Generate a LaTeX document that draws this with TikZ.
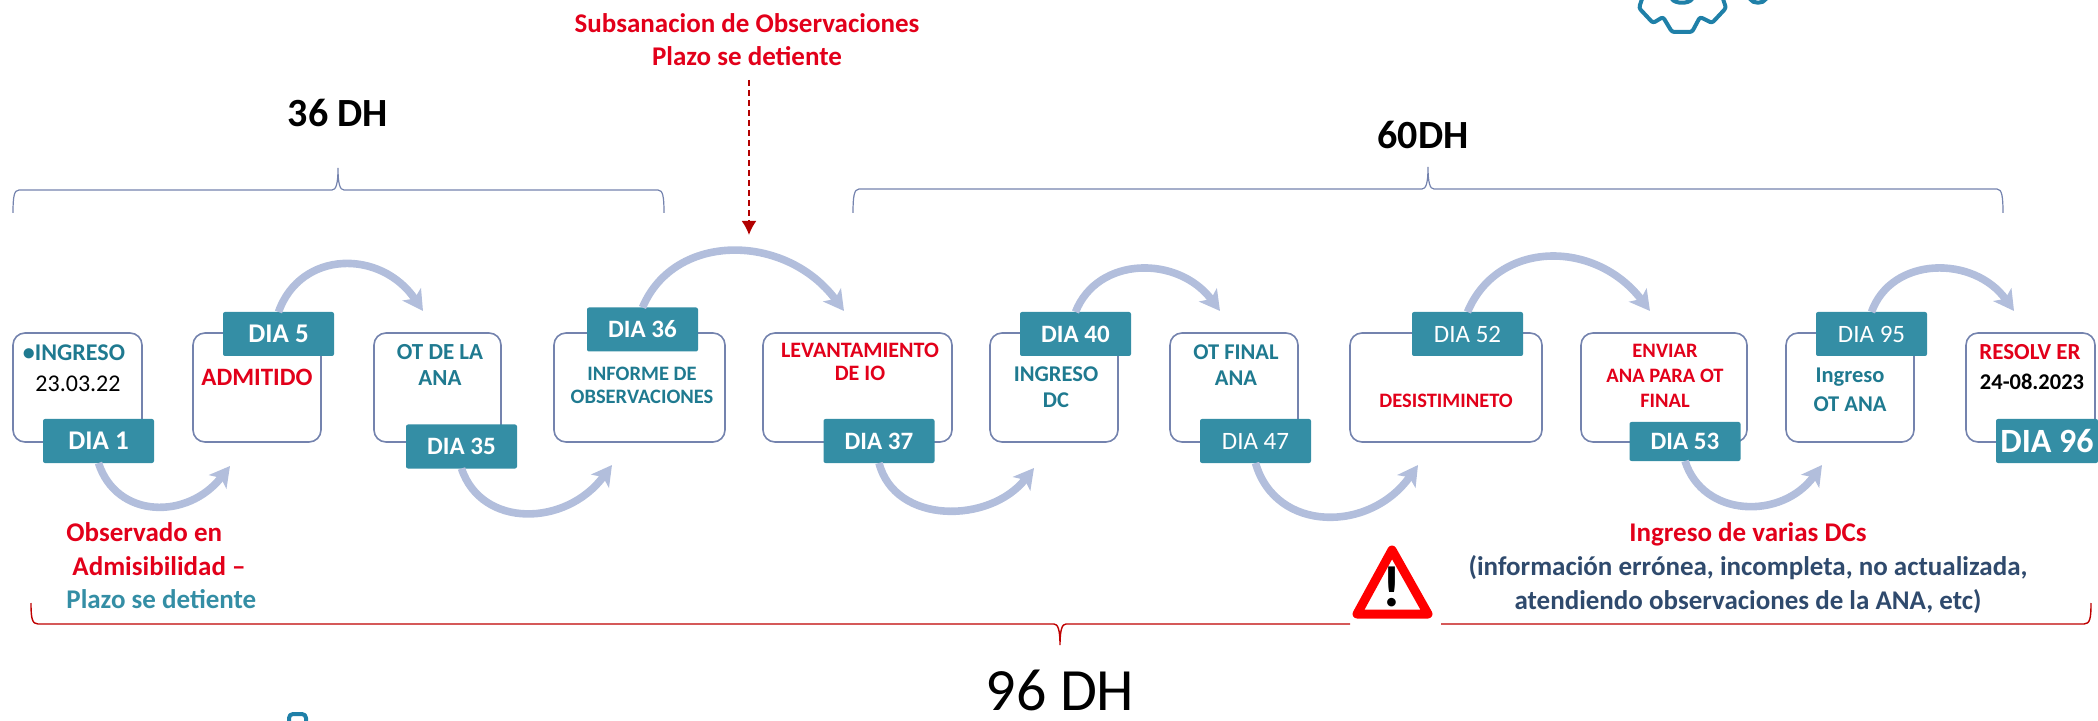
\documentclass[tikz,border=0pt]{standalone}
\usepackage{fontspec}
\setmainfont{Carlito}
\usetikzlibrary{arrows.meta}
\definecolor{tagteal}{HTML}{348EA5}
\definecolor{txtteal}{HTML}{1F7A90}
\definecolor{flowblue}{HTML}{B2BEDC}
\definecolor{boxblue}{HTML}{7483AE}
\definecolor{redtxt}{HTML}{E2001A}
\definecolor{navytxt}{HTML}{2F4A6D}
\definecolor{iconblue}{HTML}{1F80A8}
\begin{document}
\begin{tikzpicture}[x=0.5pt, y=-0.5pt,
	dbox/.style={draw=boxblue, line width=0.8pt, fill=white, rounded corners=6pt, minimum height=54.5pt, inner sep=0, outer sep=0},
	tag/.style={fill=tagteal, text=white, rounded corners=1pt, minimum width=55.5pt, minimum height=22pt, inner sep=0, outer sep=0, font=\fontsize{12.5}{15}\selectfont\bfseries},
	tagl/.style={tag, font=\fontsize{12.5}{15}\selectfont},
	l/.style={align=center, inner sep=0, font=\fontsize{#1}{#1}\selectfont\bfseries},
	flow/.style={flowblue, line width=3.8pt, -{Stealth[length=10pt, width=11pt, inset=2.5pt]}},
	bluebrace/.style={boxblue, line width=0.6pt},
	redbrace/.style={red!75!black, line width=0.7pt},
	icon/.style={iconblue, line width=2pt, line join=round, line cap=round}]
	\clip (0,0) rectangle (2098,721);

	\node[dbox, minimum width=64.5pt] (b1) at (77.5,387.5) {};
	\node[dbox, minimum width=64pt] (b2) at (257,387.5) {};
	\node[dbox, minimum width=63.5pt] (b3) at (437.5,387.5) {};
	\node[dbox, minimum width=85.5pt] (b4) at (639.5,387.5) {};
	\node[dbox, minimum width=94.5pt] (b5) at (857.5,387.5) {};
	\node[dbox, minimum width=64pt] (b6) at (1054,387.5) {};
	\node[dbox, minimum width=64pt] (b7) at (1234,387.5) {};
	\node[dbox, minimum width=96pt] (b8) at (1446,387.5) {};
	\node[dbox, minimum width=83pt] (b9) at (1664,387.5) {};
	\node[dbox, minimum width=64pt] (b10) at (1850,387.5) {};
	\node[dbox, minimum width=64.5pt] (b11) at (2030.5,387.5) {};

	\node[tag, font=\fontsize{13.5}{15}\selectfont\bfseries] (d1) at (98.5,441) {DIA 1};
	\node[tag, font=\fontsize{13.5}{15}\selectfont\bfseries] (d5) at (278.5,334) {DIA 5};
	\node[tag] (d35) at (461.5,446.5) {DIA 35};
	\node[tag] (d36) at (642.5,329.5) {DIA 36};
	\node[tag] (d37) at (879,441) {DIA 37};
	\node[tag] (d40) at (1075.5,334) {DIA 40};
	\node[tagl] (d47) at (1255.5,441) {DIA 47};
	\node[tagl] (d52) at (1467.5,334) {DIA 52};
	\node[tag, minimum height=19.5pt] (d53) at (1685,441.5) {DIA 53};
	\node[tagl] (d95) at (1871.5,334) {DIA 95};
	\node[tag, minimum width=51pt, anchor=west, font=\fontsize{17}{20}\selectfont\bfseries] (d96) at (1996,441) {DIA 96};

	\coordinate (t2) at (230,466);
	\coordinate (t3) at (423,311);
	\coordinate (t4) at (612,465);
	\coordinate (t5) at (844,311);
	\coordinate (t6) at (1034,468);
	\coordinate (t7) at (1220,311);
	\coordinate (t8) at (1418,465);
	\coordinate (t9) at (1650,311);
	\coordinate (t10) at (1822,465);
	\coordinate (t11) at (2014,311);

	\draw[flow] (d1.south) .. controls +(18,56) and +(-42,54) .. (t2);
	\draw[flow] (d5.north) .. controls +(22,-62) and +(-42,-62) .. (t3);
	\draw[flow] (d35.south) .. controls +(20,60) and +(-46,62) .. (t4);
	\draw[flow] (d36.north) .. controls +(32,-76) and +(-58,-78) .. (t5);
	\draw[flow] (d37.south) .. controls +(16,62) and +(-44,56) .. (t6);
	\draw[flow] (d40.north) .. controls +(22,-56) and +(-42,-56) .. (t7);
	\draw[flow] (d47.south) .. controls +(20,70) and +(-48,68) .. (t8);
	\draw[flow] (d52.north) .. controls +(30,-72) and +(-55,-72) .. (t9);
	\draw[flow] (d53.south) .. controls +(18,57) and +(-40,55) .. (t10);
	\draw[flow] (d95.north) .. controls +(20,-56) and +(-40,-56) .. (t11);

	% day labels inside the boxes
	\node[l=12, text=txtteal] (n1) at (74,353) {•INGRESO};
	\node[l=12, font=\fontsize{12}{12}\selectfont, text=black] (n2) at (78,384) {23.03.22};
	\node[l=12.5, text=redtxt] (n3) at (257,377) {ADMITIDO};
	\node[l=11.5, text=txtteal, font=\fontsize{11.5}{13}\selectfont\bfseries] (n4) at (440,365) {OT DE LA\\ANA};
	\node[l=10.25, text=txtteal, font=\fontsize{10.25}{11.5}\selectfont\bfseries] (n5) at (642,385) {INFORME DE\\OBSERVACIONES};
	\node[l=11, text=redtxt, font=\fontsize{11}{11.5}\selectfont\bfseries] (n6) at (860,362) {LEVANTAMIENTO\\DE IO};
	\node[l=11.25, text=txtteal, font=\fontsize{11.25}{13}\selectfont\bfseries] (n7) at (1056,387) {INGRESO\\DC};
	\node[l=11.25, text=txtteal, font=\fontsize{11.25}{13}\selectfont\bfseries] (n8) at (1236,365) {OT FINAL\\ANA};
	\node[l=10.25, text=redtxt] (n9) at (1446,401) {DESISTIMINETO};
	\node[l=10.25, text=redtxt, font=\fontsize{10.25}{12.5}\selectfont\bfseries] (n10) at (1665,376) {ENVIAR\\ANA PARA OT\\FINAL};
	\node[l=11.25, text=txtteal, font=\fontsize{11.25}{14.5}\selectfont\bfseries] (n11) at (1850,390) {Ingreso\\OT ANA};
	\node[l=11.5, text=redtxt] (n12) at (2030,352) {RESOLV ER};
	\node[l=11.25, text=black] (n13) at (2032,382) {24-08.2023};

	% notes
	\node[l=13.5, align=left, font=\fontsize{13.5}{16.9}\selectfont\bfseries, anchor=north west] (obs) at (66,522) {\textcolor{redtxt}{Observado en}\\\hspace*{3pt}\textcolor{redtxt}{Admisibilidad –}\\\textcolor{tagteal}{Plazo se detiente}};
	\node[l=13.5, font=\fontsize{13.5}{16.5}\selectfont\bfseries, text=redtxt] (sub) at (747,40) {Subsanacion de Observaciones\\Plazo se detiente};
	\node[l=13.5, font=\fontsize{13.5}{17}\selectfont\bfseries, text=navytxt] (var) at (1748,568) {\textcolor{redtxt}{Ingreso de varias DCs}\\(información errónea, incompleta, no actualizada,\\atendiendo observaciones de la ANA, etc)};

	\node[l=20, text=black] (h36) at (338,113) {36 DH};
	\node[l=20, text=black] (h60) at (1423,135) {60DH};
	\node[l=30, font=\fontsize{30}{30}\selectfont, text=black] (h96) at (1060,690) {96 DH};

	\coordinate (s0) at (749,80);
	\coordinate (s1) at (749,235);
	\draw[red!70!black, line width=1pt, densely dashed, -{Latex[length=7pt, width=7.5pt]}] (s0) -- (s1);

	\draw[bluebrace] (13,213) .. controls (13,197) and (14,190) .. (19,190) -- (332,190) .. controls (336,190) and (338,184) .. (338,168) .. controls (338,184) and (340,190) .. (344,190) -- (658,190) .. controls (663,190) and (664,197) .. (664,213);
	\draw[bluebrace] (853,213) .. controls (853,197) and (854,189) .. (859,189) -- (1422,189) .. controls (1426,189) and (1428,183) .. (1428,167) .. controls (1428,183) and (1430,189) .. (1434,189) -- (1997,189) .. controls (2002,189) and (2003,197) .. (2003,213);

	\draw[redbrace] (31,603) .. controls (31,618) and (32,624) .. (38,624) -- (1054,624) .. controls (1058,624) and (1060,630) .. (1060,645) .. controls (1060,630) and (1062,624) .. (1066,624) -- (1350,624);
	\draw[redbrace] (1441,624) -- (2084,624) .. controls (2090,624) and (2091,618) .. (2091,603);

	\draw[red, line width=4.5pt, line join=round, fill=white] (1392,550) -- (1357,614) -- (1428,614) -- cycle;
	\node[l=29, text=black] (bang) at (1392,587) {!};

	% cut icons at the page edges
	\draw[icon, rounded corners=1.2pt] (1643,-4) -- (1639,8) -- (1653,23) -- (1663,17) -- (1672,32) -- (1692,32) -- (1700,17) -- (1712,23) -- (1726,8) -- (1722,-4);
	\draw[icon] (1672,-1) .. controls (1675,4) and (1689,4) .. (1692,-1);
	\draw[icon] (1750,-1) .. controls (1753,4) and (1763,4) .. (1766,-1);
	\draw[icon, rounded corners=2pt] (289,727) -- (289,714) -- (306,714) -- (306,727);
\end{tikzpicture}
\end{document}
